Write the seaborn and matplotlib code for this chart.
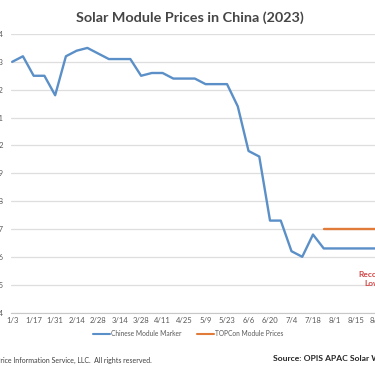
import matplotlib
matplotlib.use("Agg")
import matplotlib.pyplot as plt
import seaborn as sns
import pandas as pd
from matplotlib.lines import Line2D

weeks = ['1/3', '1/10', '1/17', '1/24', '1/31', '2/7', '2/14', '2/21', '2/28',
         '3/7', '3/14', '3/21', '3/28', '4/4', '4/11', '4/18', '4/25', '5/2',
         '5/9', '5/16', '5/23', '5/30', '6/6', '6/13', '6/20', '6/27', '7/4',
         '7/11', '7/18', '7/25', '8/1', '8/8', '8/15', '8/22', '8/29']
cmm = [0.230, 0.232, 0.225, 0.225, 0.218, 0.232, 0.234, 0.235, 0.233,
       0.231, 0.231, 0.231, 0.225, 0.226, 0.226, 0.224, 0.224, 0.224,
       0.222, 0.222, 0.222, 0.214, 0.198, 0.196, 0.173, 0.173, 0.162,
       0.160, 0.168, 0.163, 0.163, 0.163, 0.163, 0.163, 0.163]
topcon_weeks = ['7/25', '8/1', '8/8', '8/15', '8/22', '8/29']
topcon = [0.170, 0.170, 0.170, 0.170, 0.170, 0.170]
yticks = [0.14, 0.15, 0.16, 0.17, 0.18, 0.19, 0.20, 0.21, 0.22, 0.23, 0.24]
ytick_labels = ['0.14', '0.15', '0.16', '0.17', '0.18', '0.19', '0.2', '0.21', '0.22', '0.23', '0.24']

sns.set_theme(style="white")
plt.rcParams['font.family'] = ['Lato', 'DejaVu Sans']

W, H = 375, 366
fig = plt.figure(figsize=(W / 100, H / 100), dpi=100)
ax = fig.add_axes([11 / W, (H - 312.5) / H, 389 / W, (312.5 - 34) / H])

idx = {w: i for i, w in enumerate(weeks)}
df1 = pd.DataFrame({'x': [idx[w] for w in weeks], 'y': cmm, 's': 'Chinese Module Marker'})
df2 = pd.DataFrame({'x': [idx[w] for w in topcon_weeks], 'y': topcon, 's': 'TOPCon Module Prices'})
df = pd.concat([df1, df2], ignore_index=True)

sns.lineplot(data=df, x='x', y='y', hue='s', ax=ax, linewidth=1.7,
             palette={'Chinese Module Marker': '#5b8fc7', 'TOPCon Module Prices': '#e07b39'},
             legend=False)

ax.set_ylim(0.14, 0.24)
ax.set_xlim(-0.11, 36.1)
ax.set_yticks(yticks)
ax.set_yticklabels(ytick_labels)
ax.set_xticks(list(range(0, len(weeks), 2)))
ax.set_xticklabels(weeks[::2])
ax.grid(axis='y', color='#dedede', linewidth=0.9)
ax.set_axisbelow(True)
for s in ['top', 'right', 'left']:
    ax.spines[s].set_visible(False)
ax.spines['bottom'].set_color('#c8c8c8')
ax.spines['bottom'].set_linewidth(0.8)
ax.tick_params(axis='both', length=0, labelsize=5.5, labelcolor='#595959')
ax.tick_params(axis='x', pad=3.5)
ax.tick_params(axis='y', pad=5)
ax.set_xlabel('')
ax.set_ylabel('')

fig.text(190 / W, 1 - 17.5 / H, 'Solar Module Prices in China (2023)', ha='center', va='center',
         fontsize=10.4, fontweight='bold', color='#454545')

handles = [Line2D([], [], color='#5b8fc7', lw=1.5), Line2D([], [], color='#e07b39', lw=1.5)]
fig.legend(handles, ['Chinese Module Marker', 'TOPCon Module Prices'], loc='center',
           bbox_to_anchor=(188 / W, 1 - 334 / H), ncol=2, frameon=False, fontsize=4.8,
           labelcolor='#595959', handlelength=2.5, handletextpad=0.15, columnspacing=2.4)

fig.text(372 / W, 1 - 279 / H, 'Record\nLow', ha='center', va='center', fontsize=6,
         fontweight='bold', color='#d04848', multialignment='center', linespacing=1.2)

fig.text(152 / W, 1 - 360 / H, '\u00a9 2023 Oil Price Information Service, LLC.  All rights reserved.',
         ha='right', va='center', fontsize=5.0, color='#404040')
fig.text(273 / W, 1 - 358.5 / H, 'Source: OPIS APAC Solar Weekly', ha='left', va='center',
         fontsize=6.1, fontweight='bold', color='#262626')

fig.savefig('out.png', dpi=100)
